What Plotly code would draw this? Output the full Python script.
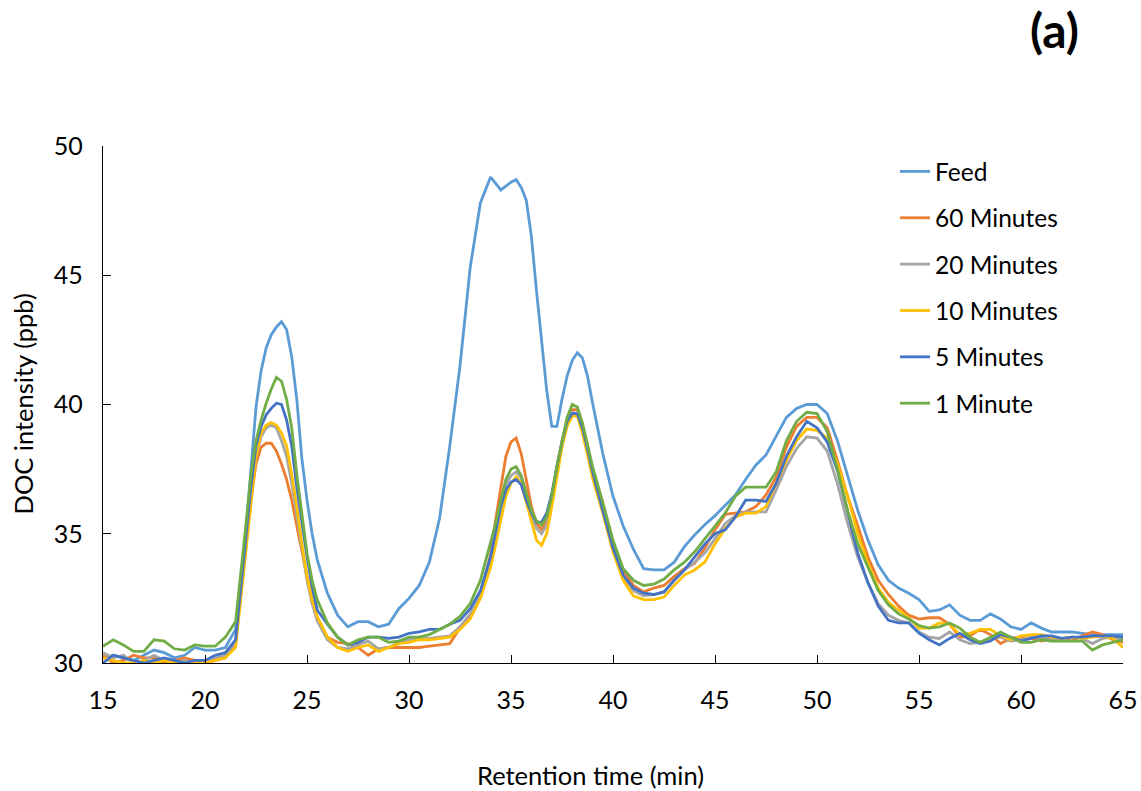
import plotly.graph_objects as go

# Retention time grid (min)
retention_time = [
    15, 15.5, 16, 16.5, 17, 17.5, 18, 18.5, 19, 19.5, 20, 20.5, 21, 21.5,
    22, 22.25, 22.5, 22.75, 23, 23.25, 23.5, 23.75, 24, 24.25, 24.5, 24.75, 25, 25.25, 25.5,
    26, 26.5, 27, 27.5, 28, 28.5, 29, 29.5, 30, 30.5, 31, 31.5, 32, 32.5, 33, 33.5,
    34, 34.25, 34.5, 34.75, 35, 35.25, 35.5, 35.75, 36, 36.25, 36.5, 36.75, 37, 37.25,
    37.5, 37.75, 38, 38.25, 38.5, 38.75, 39,
    39.5, 40, 40.5, 41, 41.5, 42, 42.5, 43, 43.5, 44, 44.5, 45, 45.5, 46, 46.5, 47, 47.5,
    48, 48.5, 49, 49.5, 50, 50.5, 51, 51.5, 52, 52.5, 53, 53.5, 54, 54.5, 55, 55.5, 56,
    56.5, 57, 57.5, 58, 58.5, 59, 59.5, 60, 60.5, 61, 61.5, 62, 62.5, 63, 63.5, 64, 64.5, 65,
]

feed = [
    30.2, 30.3, 30.2, 30.1, 30.3, 30.5, 30.4, 30.2, 30.3, 30.6, 30.5, 30.5, 30.6, 31.3,
    35.0, 37.5, 39.9, 41.3, 42.2, 42.7, 43.0, 43.2, 42.9, 41.85, 40.2, 37.9, 36.3, 35.0, 34.0,
    32.7, 31.85, 31.4, 31.6, 31.6, 31.4, 31.5, 32.1, 32.5, 33.0, 33.9, 35.6, 38.4, 41.5, 45.3, 47.8,
    48.8, 48.55, 48.3, 48.45, 48.6, 48.7, 48.4, 47.9, 46.5, 44.4, 42.35, 40.55, 39.15, 39.15,
    40.2, 41.1, 41.7, 42.0, 41.8, 41.1, 40.05,
    38.1, 36.45, 35.3, 34.4, 33.65, 33.6, 33.6, 33.9, 34.5, 34.95, 35.35, 35.7, 36.1, 36.5, 37.1, 37.65, 38.05,
    38.75, 39.5, 39.85, 40.0, 40.0, 39.65, 38.6, 37.2, 35.9, 34.75, 33.8, 33.2, 32.9, 32.7, 32.45, 32.0, 32.05,
    32.25, 31.85, 31.65, 31.65, 31.9, 31.7, 31.4, 31.3, 31.55, 31.35, 31.2, 31.2, 31.2, 31.15, 31.1, 31.1, 31.1, 31.1,
]

min60 = [
    30.3, 30.0, 30.1, 30.3, 30.2, 30.2, 30.0, 30.1, 30.2, 30.1, 30.0, 30.1, 30.2, 30.8,
    34.5, 36.3, 37.7, 38.35, 38.5, 38.5, 38.2, 37.7, 37.1, 36.3, 35.3, 34.25, 33.35, 32.45, 31.65,
    31.0, 30.8, 30.75, 30.6, 30.3, 30.55, 30.6, 30.6, 30.6, 30.6, 30.65, 30.7, 30.75, 31.35, 31.85, 32.6,
    34.2, 35.55, 36.8, 38.0, 38.55, 38.7, 38.1, 37.1, 36.05, 35.4, 35.15, 35.55, 36.45, 37.6,
    38.6, 39.4, 39.8, 39.8, 39.15, 38.4, 37.45,
    36.2, 34.6, 33.6, 33.0, 32.75, 32.9, 33.0, 33.35, 33.65, 33.85, 34.45, 35.15, 35.75, 35.8, 35.85, 36.05, 36.5,
    37.2, 38.35, 39.15, 39.5, 39.5, 39.1, 37.85, 36.45, 35.3, 34.1, 33.2, 32.65, 32.2, 31.85, 31.7, 31.75, 31.75,
    31.5, 31.0, 31.05, 31.3, 31.1, 30.75, 30.95, 31.0, 30.95, 30.85, 30.95, 30.95, 30.85, 31.05, 31.2, 31.1, 30.9, 30.8,
]

min20 = [
    30.4, 30.2, 30.3, 30.0, 30.1, 30.3, 30.1, 30.0, 30.1, 30.0, 30.1, 30.2, 30.3, 30.8,
    34.5, 36.4, 38.0, 38.75, 39.1, 39.2, 39.1, 38.6, 38.0, 36.95, 35.65, 34.4, 33.2, 32.3, 31.65,
    30.9, 30.6, 30.55, 30.7, 30.85, 30.55, 30.6, 30.8, 30.9, 30.95, 30.95, 31.0, 31.05, 31.4, 31.9, 32.7,
    34.05, 35.15, 36.1, 36.9, 37.25, 37.4, 37.15, 36.45, 35.75, 35.2, 35.0, 35.35, 36.25, 37.4,
    38.5, 39.35, 39.7, 39.65, 39.0, 38.25, 37.35,
    35.9, 34.45, 33.35, 32.8, 32.6, 32.65, 32.75, 33.2, 33.6, 33.9, 34.25, 34.8, 35.4, 35.7, 35.85, 35.85, 35.85,
    36.7, 37.6, 38.3, 38.75, 38.7, 38.2, 36.95, 35.4, 34.1, 33.1, 32.3, 31.85, 31.65, 31.55, 31.2, 31.0, 30.95,
    31.2, 30.9, 30.75, 30.8, 30.95, 31.0, 30.85, 30.9, 31.0, 30.95, 30.95, 30.9, 31.0, 30.95, 30.75, 30.95, 31.0, 30.9,
]

min10 = [
    30.2, 30.1, 30.0, 30.0, 30.1, 30.0, 30.1, 30.0, 30.0, 30.0, 30.0, 30.1, 30.2, 30.6,
    34.3, 36.3, 38.0, 38.9, 39.2, 39.3, 39.2, 38.9, 38.4, 37.3, 36.05, 34.6, 33.35, 32.45, 31.8,
    31.0, 30.6, 30.45, 30.6, 30.7, 30.45, 30.6, 30.75, 30.8, 30.9, 30.9, 30.95, 31.0, 31.3, 31.7, 32.5,
    33.7, 34.6, 35.55, 36.45, 36.95, 37.2, 36.95, 36.2, 35.4, 34.75, 34.55, 35.0, 36.05, 37.25,
    38.35, 39.15, 39.55, 39.55, 38.9, 38.05, 37.15,
    35.8, 34.3, 33.2, 32.6, 32.45, 32.45, 32.55, 33.0, 33.4, 33.6, 33.9, 34.6, 35.2, 35.65, 35.8, 35.8, 36.05,
    36.95, 37.85, 38.6, 39.05, 39.0, 38.7, 37.7, 36.45, 35.0, 33.85, 32.9, 32.35, 32.05, 31.75, 31.35, 31.35, 31.55,
    31.5, 31.1, 31.15, 31.3, 31.3, 31.05, 30.9, 31.05, 31.1, 31.1, 31.0, 30.95, 31.0, 30.95, 31.0, 31.05, 30.95, 30.6,
]

min5 = [
    30.0, 30.3, 30.2, 30.1, 30.0, 30.1, 30.2, 30.1, 30.0, 30.1, 30.1, 30.3, 30.4, 30.9,
    34.75, 36.8, 38.4, 39.15, 39.6, 39.85, 40.05, 40.0, 39.4, 38.4, 36.8, 35.4, 34.1, 32.95, 32.05,
    31.5, 31.0, 30.7, 30.8, 31.0, 31.0, 30.95, 31.0, 31.15, 31.2, 31.3, 31.3, 31.5, 31.65, 32.1, 32.8,
    34.1, 35.15, 36.05, 36.7, 37.0, 37.1, 36.9, 36.3, 35.8, 35.45, 35.45, 35.8, 36.55, 37.6,
    38.55, 39.35, 39.65, 39.65, 39.1, 38.3, 37.4,
    35.9, 34.45, 33.4, 32.9, 32.7, 32.65, 32.75, 33.2, 33.6, 34.1, 34.6, 35.0, 35.15, 35.65, 36.3, 36.3, 36.25,
    36.95, 38.0, 38.75, 39.35, 39.1, 38.55, 37.45, 35.8, 34.25, 33.1, 32.2, 31.65, 31.55, 31.55, 31.15, 30.9, 30.7,
    30.95, 31.15, 30.9, 30.75, 30.85, 31.1, 31.0, 30.85, 30.95, 31.05, 31.05, 30.95, 31.0, 31.0, 31.05, 31.05, 31.05, 31.0,
]

min1 = [
    30.65, 30.9, 30.7, 30.45, 30.45, 30.9, 30.85, 30.55, 30.5, 30.7, 30.65, 30.65, 31.0, 31.6,
    35.3, 37.3, 38.6, 39.4, 40.05, 40.6, 41.05, 40.9, 40.2, 39.1, 37.3, 35.7, 34.25, 33.2, 32.45,
    31.55, 31.0, 30.7, 30.9, 31.0, 31.0, 30.8, 30.85, 31.0, 31.0, 31.1, 31.3, 31.5, 31.8, 32.3, 33.2,
    34.6, 35.4, 36.3, 37.1, 37.5, 37.6, 37.25, 36.55, 35.9, 35.5, 35.35, 35.65, 36.45, 37.6,
    38.6, 39.5, 40.0, 39.9, 39.3, 38.5, 37.6,
    36.2, 34.75, 33.65, 33.2, 33.0, 33.05, 33.25, 33.6, 33.9, 34.3, 34.8, 35.3, 35.8, 36.45, 36.8, 36.8, 36.8,
    37.4, 38.6, 39.35, 39.7, 39.65, 38.95, 37.5, 35.9, 34.6, 33.7, 32.8, 32.25, 31.9, 31.7, 31.45, 31.35, 31.4,
    31.55, 31.35, 31.0, 30.8, 31.0, 31.2, 31.0, 30.8, 30.8, 30.9, 30.85, 30.85, 30.85, 30.85, 30.5, 30.7, 30.8, 30.9,
]

series_names = ["Feed", "60 Minutes", "20 Minutes", "10 Minutes", "5 Minutes", "1 Minute"]
series_values = [feed, min60, min20, min10, min5, min1]
series_colors = ["#5B9BD5", "#ED7D31", "#A5A5A5", "#FFC000", "#4472C4", "#70AD47"]

x_ticks = [15, 20, 25, 30, 35, 40, 45, 50, 55, 60, 65]
y_ticks = [30, 35, 40, 45, 50]

FONT = "Lato, 'Open Sans', sans-serif"

fig = go.Figure()
for i, (name, vals, col) in enumerate(zip(series_names, series_values, series_colors)):
    fig.add_trace(go.Scatter(
        x=retention_time, y=vals, mode="lines", name=name,
        line=dict(color=col, width=2.8), legendgroup=f"g{i}",
    ))

axis_common = dict(
    showline=True, linecolor="#000000", linewidth=1.3,
    showgrid=False, zeroline=False, automargin=False,
    ticks="inside", ticklen=8, tickwidth=1.3, tickcolor="#000000",
    tickfont=dict(family=FONT, size=25, color="#000000"),
)

fig.update_layout(
    width=1141, height=791,
    margin=dict(l=103, r=18, t=146, b=128, pad=0),
    paper_bgcolor="white", plot_bgcolor="white",
    font=dict(family=FONT, size=24, color="#000000"),
    xaxis=dict(range=[15, 65], tickvals=x_ticks, ticklabelstandoff=15, **axis_common),
    yaxis=dict(range=[30, 50], tickvals=y_ticks, ticklabelstandoff=14, **axis_common),
    legend=dict(
        x=0.7765, y=0.9942, xanchor="left", yanchor="top",
        font=dict(family=FONT, size=24.5, color="#000000"),
        bgcolor="rgba(0,0,0,0)", borderwidth=0,
        tracegroupgap=11.5, itemwidth=30,
    ),
    showlegend=True,
    annotations=[
        dict(text="Retention time (min)", xref="paper", yref="paper",
             x=0.4784, y=-0.2166, xanchor="center", yanchor="middle",
             showarrow=False, font=dict(family=FONT, size=25.5, color="#000000")),
        dict(text="DOC intensity (ppb)", xref="paper", yref="paper",
             x=-0.0794, y=0.5, xanchor="center", yanchor="middle", textangle=-90,
             showarrow=False, font=dict(family=FONT, size=25.5, color="#000000")),
        dict(text="<b>(a)</b>", xref="paper", yref="paper",
             x=0.9333, y=1.2244, xanchor="center", yanchor="middle",
             showarrow=False, font=dict(family=FONT, size=48, color="#000000")),
    ],
)

# remove the browser's default 8px body margin so the page is exactly the figure
fig.write_html(
    "out.html",
    config={"displayModeBar": False},
    post_script="document.body.style.margin='0';document.body.style.overflow='hidden';",
)
